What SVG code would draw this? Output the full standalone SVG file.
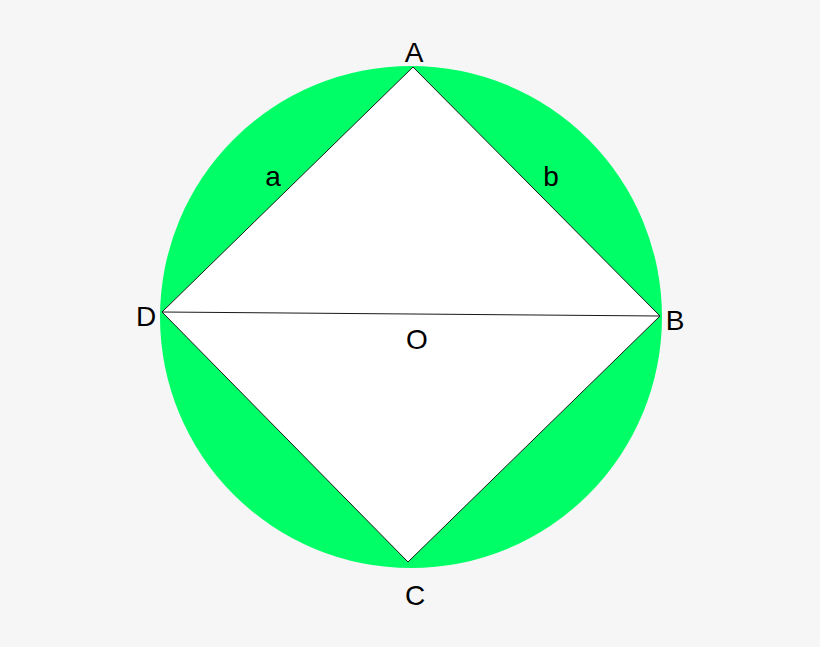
<svg xmlns="http://www.w3.org/2000/svg" width="820" height="647" viewBox="0 0 820 647">
<style>
text{font-family:"Liberation Sans",Arial,sans-serif;font-size:28px;fill:#000;text-anchor:middle}
.edge{stroke:#1a1a1a;stroke-width:1;fill:none}
</style>
<rect width="820" height="647" fill="#f6f6f6"/>
<g id="circle"><circle cx="411" cy="317" r="251" fill="#00ff66"/></g>
<g id="square"><polygon points="413,67 660,316 408,562 162,312" fill="#ffffff"/></g>
<g id="connectors">
<line class="edge" x1="413" y1="67" x2="660" y2="316"/>
<line class="edge" x1="660" y1="316" x2="408" y2="562"/>
<line class="edge" x1="408" y1="562" x2="162" y2="312"/>
<line class="edge" x1="162" y1="312" x2="413" y2="67"/>
<line class="edge" x1="162" y1="312" x2="660" y2="316"/>
</g>
<g id="labels">
<text x="414" y="62">A</text>
<text x="675" y="330">B</text>
<text x="415" y="605">C</text>
<text x="146" y="326">D</text>
<text x="417" y="349">O</text>
<text x="273" y="186">a</text>
<text x="551" y="186">b</text>
</g>
</svg>
